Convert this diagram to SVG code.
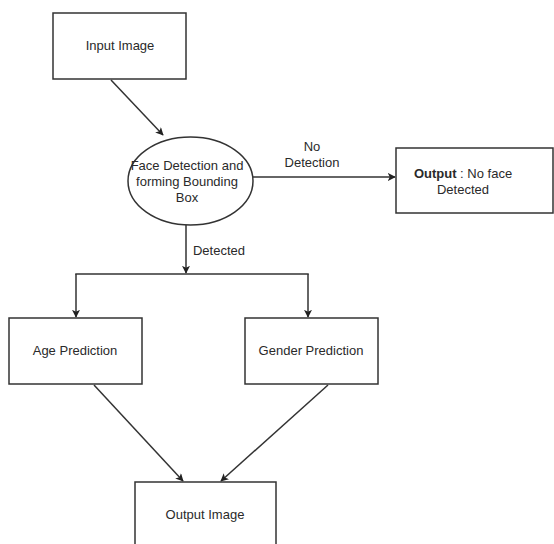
<svg xmlns="http://www.w3.org/2000/svg" width="554" height="544" viewBox="0 0 554 544">
<defs>
<marker id="ah" viewBox="0 0 10 10" refX="9" refY="5" markerWidth="8" markerHeight="8" markerUnits="userSpaceOnUse" orient="auto">
<path d="M0,0 L10,5 L0,10 L2.5,5 Z" fill="#222"/>
</marker>
</defs>
<style>
.box{fill:#fff;stroke:#333;stroke-width:1.5}
.t{font-family:"Liberation Sans",Arial,sans-serif;font-size:13px;fill:#2a2a2a;text-anchor:middle}
.c{fill:none;stroke:#333;stroke-width:1.5}
</style>
<rect width="554" height="544" fill="#fff"/>
<g id="connectors">
<line class="c" x1="111" y1="80" x2="163" y2="135" marker-end="url(#ah)"/>
<line class="c" x1="253" y1="177" x2="395" y2="177" marker-end="url(#ah)"/>
<line class="c" x1="186" y1="225" x2="186" y2="273" marker-end="url(#ah)"/>
<line class="c" x1="75.25" y1="274" x2="308.75" y2="274"/>
<line class="c" x1="76" y1="274" x2="76" y2="317" marker-end="url(#ah)"/>
<line class="c" x1="308" y1="274" x2="308" y2="317" marker-end="url(#ah)"/>
<line class="c" x1="94" y1="385" x2="183" y2="481" marker-end="url(#ah)"/>
<line class="c" x1="328" y1="385" x2="221" y2="481" marker-end="url(#ah)"/>
<text class="t" x="312" y="151">No</text>
<text class="t" x="312" y="167">Detection</text>
<text class="t" x="219" y="255">Detected</text>
</g>
<g id="input-image">
<rect class="box" x="53" y="13" width="133" height="66"/>
<text class="t" x="120" y="50">Input Image</text>
</g>
<g id="face-detection">
<ellipse class="box" cx="190.5" cy="181" rx="62.5" ry="44"/>
<text class="t" x="187" y="170">Face Detection and</text>
<text class="t" x="187" y="186">forming Bounding</text>
<text class="t" x="187" y="202">Box</text>
</g>
<g id="output-no-face">
<rect class="box" x="396" y="148" width="157" height="65"/>
<text class="t" x="463" y="178"><tspan font-weight="bold">Output</tspan> : No face</text>
<text class="t" x="463" y="194">Detected</text>
</g>
<g id="age-prediction">
<rect class="box" x="9" y="318" width="133" height="66"/>
<text class="t" x="75" y="355">Age Prediction</text>
</g>
<g id="gender-prediction">
<rect class="box" x="245" y="318" width="133" height="66"/>
<text class="t" x="311" y="355">Gender Prediction</text>
</g>
<g id="output-image">
<rect class="box" x="135" y="482" width="141" height="66"/>
<text class="t" x="205" y="519">Output Image</text>
</g>
</svg>
